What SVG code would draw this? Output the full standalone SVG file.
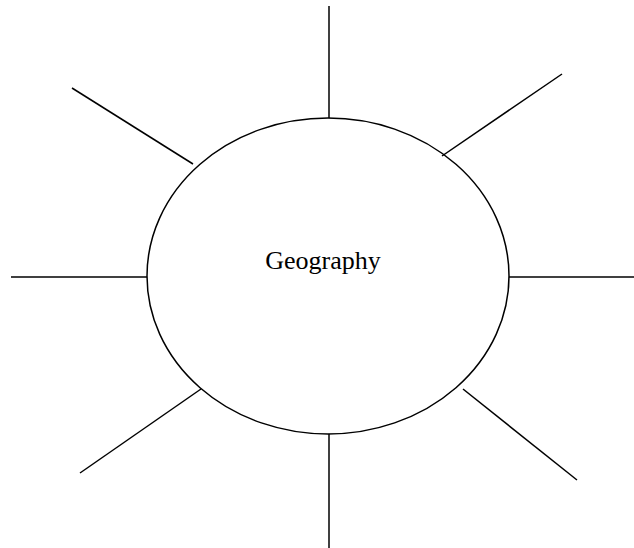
<svg xmlns="http://www.w3.org/2000/svg" width="634" height="548" viewBox="0 0 634 548">
<style>
.s{stroke:#000;stroke-width:1.5;fill:none}
.t{font-family:"Liberation Serif","Times New Roman",serif;font-size:26px;fill:#000}
</style>
<rect width="634" height="548" fill="#fff"/>
<g id="connectors">
<line class="s" x1="329" y1="6" x2="329" y2="118"/>
<line class="s" x1="329" y1="434" x2="329" y2="548"/>
<line class="s" x1="11" y1="277" x2="147" y2="277"/>
<line class="s" x1="509" y1="277" x2="634" y2="277"/>
<line class="s" x1="72" y1="88" x2="193" y2="164"/>
<line class="s" x1="442" y1="156" x2="562" y2="74"/>
<line class="s" x1="201" y1="389" x2="80" y2="473"/>
<line class="s" x1="463" y1="389" x2="577" y2="480"/>
</g>
<g id="geography">
<ellipse class="s" cx="328" cy="276" rx="181" ry="158"/>
<text class="t" x="323" y="269" text-anchor="middle">Geography</text>
</g>
</svg>
